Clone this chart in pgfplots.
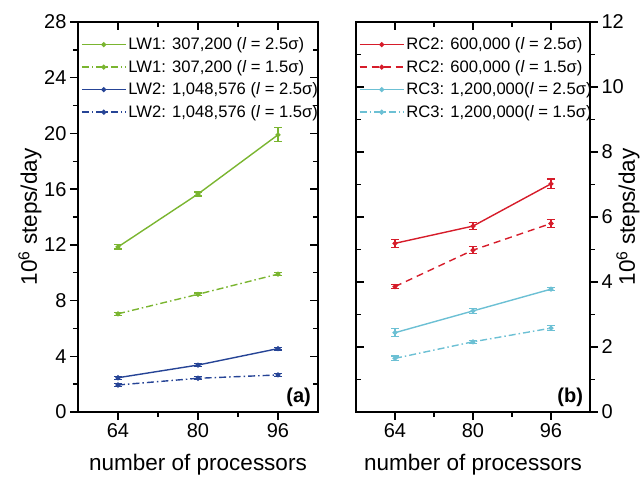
\documentclass[border=0pt]{standalone}
\usepackage{fontspec}
\setmainfont{Liberation Sans}
\usepackage{pgfplots}
\pgfplotsset{compat=1.18}
\definecolor{lwgreen}{RGB}{122,181,48}
\definecolor{lwblue}{RGB}{38,68,150}
\definecolor{rcred}{RGB}{214,28,42}
\definecolor{rccyan}{RGB}{108,192,212}
\pgfplotsset{
  panel/.style={scale only axis, height=390pt, xmin=56, xmax=104,
    xtick={64,80,96}, minor xtick={72,88},
    axis line style={line width=1.6pt},
    major tick length=8pt, minor tick length=5pt,
    every tick/.style={black, line width=1.4pt},
    tick label style={font=\fontsize{20}{24}\selectfont},
    label style={font=\fontsize{22.5}{26}\selectfont},
    xlabel style={yshift=-10pt},
    /pgf/number format/assume math mode=true,
    clip=false},
  mirror/.style={scale only axis, height=390pt, xmin=56, xmax=104,
    xtick={64,80,96}, minor xtick={72,88},
    axis line style={line width=1.6pt},
    major tick length=8pt, minor tick length=5pt,
    every tick/.style={black, line width=1.4pt},
    xtick pos=top, ytick pos=right, tick align=inside,
    xticklabels={}, yticklabels={}},
  ser/.style={line width=1.4pt, mark=*, mark size=1.8pt, mark options={solid},
    error bars/y dir=both, error bars/y explicit,
    error bars/error mark options={rotate=90, mark size=4pt, line width=1.2pt, solid},
    error bars/error bar style={line width=1.2pt, solid}},
  dd/.style={dash pattern=on 7pt off 3pt on 1.5pt off 3pt},
  leg/.style={legend style={draw=none, fill=none, anchor=north west,
      font=\fontsize{16.6}{19}\selectfont, row sep=5pt,
      legend cell align=left, inner sep=0pt},
    legend image code/.code={\draw[mark repeat=2, mark phase=2] plot coordinates {(0pt,0pt) (22pt,0pt) (44pt,0pt)};}}
}
\begin{document}
\begin{tikzpicture}
\useasboundingbox (0pt,0pt) rectangle (641pt,478pt);
% panel (a)
\begin{axis}[panel, at={(78pt,66pt)}, anchor=south west, width=240pt,
  ymin=0, ymax=28, ytick={0,4,...,28}, minor ytick={2,6,...,26},
  xtick pos=bottom, ytick pos=left, tick align=outside,
  ylabel={10\textsuperscript{6} steps/day},
  ylabel style={at={([xshift=-48pt]rel axis cs:0,0.5)}, anchor=center},
  xlabel={number of processors},
  leg, legend style={at={(axis description cs:0.012,0.965)}}]
\addplot[ser, lwgreen] coordinates {(64,11.85) +- (0,0.15) (80,15.65) +- (0,0.15) (96,19.9) +- (0,0.5)};
\addlegendentry{LW1: 307,200 (\textit{l} = 2.5σ)}
\addplot[ser, lwgreen, dd] coordinates {(64,7.05) +- (0,0.1) (80,8.45) +- (0,0.1) (96,9.9) +- (0,0.12)};
\addlegendentry{LW1: 307,200 (\textit{l} = 1.5σ)}
\addplot[ser, lwblue] coordinates {(64,2.46) +- (0,0.1) (80,3.37) +- (0,0.1) (96,4.55) +- (0,0.1)};
\addlegendentry{LW2: 1,048,576 (\textit{l} = 2.5σ)}
\addplot[ser, lwblue, dd] coordinates {(64,1.94) +- (0,0.1) (80,2.42) +- (0,0.1) (96,2.66) +- (0,0.1)};
\addlegendentry{LW2: 1,048,576 (\textit{l} = 1.5σ)}
\node[anchor=south east, font=\bfseries\fontsize{20}{24}\selectfont] at (rel axis cs:0.985,0.005) {(a)};
\end{axis}
\begin{axis}[mirror, at={(78pt,66pt)}, anchor=south west, width=240pt,
  ymin=0, ymax=28, ytick={0,4,...,28}, minor ytick={2,6,...,26}]
\end{axis}
% panel (b)
\begin{axis}[panel, at={(356pt,66pt)}, anchor=south west, width=234pt,
  ymin=0, ymax=12, ytick={0,2,...,12}, minor ytick={1,3,...,11},
  xtick pos=bottom, ytick pos=right, yticklabel pos=right, tick align=outside,
  ylabel={10\textsuperscript{6} steps/day},
  ylabel style={at={([xshift=38pt]rel axis cs:1,0.5)}, anchor=center},
  xlabel={number of processors},
  leg, legend style={at={(axis description cs:0.012,0.965)}}]
\addplot[ser, rcred] coordinates {(64,5.19) +- (0,0.12) (80,5.72) +- (0,0.1) (96,7.02) +- (0,0.15)};
\addlegendentry{RC2: 600,000 (\textit{l} = 2.5σ)}
\addplot[ser, rcred, dash pattern=on 7pt off 5pt] coordinates {(64,3.86) +- (0,0.06) (80,4.98) +- (0,0.1) (96,5.8) +- (0,0.12)};
\addlegendentry{RC2: 600,000 (\textit{l} = 1.5σ)}
\addplot[ser, rccyan] coordinates {(64,2.44) +- (0,0.12) (80,3.11) +- (0,0.07) (96,3.78) +- (0,0.05)};
\addlegendentry{RC3: 1,200,000(\textit{l} = 2.5σ)}
\addplot[ser, rccyan, dd] coordinates {(64,1.65) +- (0,0.07) (80,2.16) +- (0,0.05) (96,2.58) +- (0,0.07)};
\addlegendentry{RC3: 1,200,000(\textit{l} = 1.5σ)}
\node[anchor=south east, font=\bfseries\fontsize{20}{24}\selectfont] at (rel axis cs:0.985,0.005) {(b)};
\end{axis}
\begin{axis}[mirror, at={(356pt,66pt)}, anchor=south west, width=234pt,
  ymin=0, ymax=12, ytick={0,2,...,12}, minor ytick={1,3,...,11},
  ytick pos=left]
\end{axis}
\end{tikzpicture}
\end{document}
